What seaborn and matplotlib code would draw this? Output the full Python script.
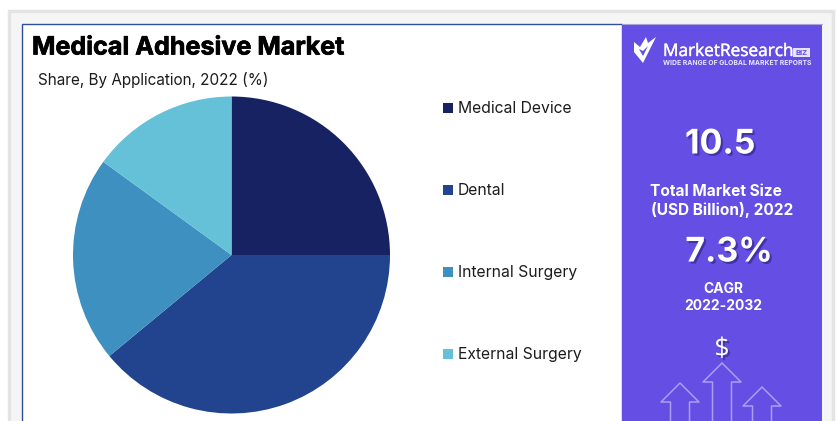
import matplotlib
matplotlib.use("Agg")
import matplotlib.pyplot as plt
import matplotlib.patheffects as pe
from matplotlib.patches import Rectangle, Polygon
import seaborn as sns

# Application shares, 2022 (%)
categories = ["Medical Device", "Dental", "Internal Surgery", "External Surgery"]
shares = [25, 39, 21, 15]
slice_colors = ["#162262", "#22448f", "#3e90c1", "#65c1d8"]

title = "Medical Adhesive Market"
subtitle = "Share, By Application, 2022 (%)"
market_size = "10.5"
market_label = ["Total Market Size", "(USD Billion), 2022"]
cagr = "7.3%"
cagr_label = ["CAGR", "2022-2032"]

W, H = 836, 421
sns.set_theme(style="white")
plt.rcParams["font.family"] = ["Inter", "DejaVu Sans"]

fig = plt.figure(figsize=(W / 100, H / 100), dpi=100, facecolor="white")

# Canvas addressed in pixels from the top-left corner
bg = fig.add_axes([0, 0, 1, 1])
bg.set_xlim(0, W)
bg.set_ylim(H, 0)
bg.axis("off")

PURPLE = "#644ee4"
bg.add_patch(Rectangle((8.5, 10.5), 824, 420, fc="#f5f5f5", ec="#e4e4e4", lw=2.5))
bg.add_patch(Rectangle((22, 24), 599.5, 420, fc="white", ec="#2f4f9c", lw=1))
bg.add_patch(Rectangle((622, 24), 200, 420, fc=PURPLE, ec="none"))
bg.plot([621.5, 822], [24, 24], color="#a9a3d8", lw=0.8)

# Headings, thickened slightly with a stroke
bg.text(32, 48, title, fontsize=18.1, fontweight="bold", color="black", va="center", ha="left",
        path_effects=[pe.withStroke(linewidth=0.5, foreground="black")])
bg.text(38, 80.5, subtitle, fontsize=11.0, color="#1c1c1c", va="center", ha="left")

# Pie chart
r = 158.5
cx, cy = 231.5, 255
pie_ax = fig.add_axes([(cx - r) / W, 1 - (cy + r) / H, 2 * r / W, 2 * r / H])
pie_ax.pie(shares, colors=slice_colors, startangle=90, counterclock=False, radius=1,
           wedgeprops={"linewidth": 0})
pie_ax.set_xlim(-1, 1)
pie_ax.set_ylim(-1, 1)

# Legend column
legend_y = [108, 190, 272, 354]
for name, color, y in zip(categories, slice_colors, legend_y):
    bg.add_patch(Rectangle((442.5, y - 5.5), 10.5, 10.5, fc=color, ec="none"))
    bg.text(458, y + 0.3, name, fontsize=11.3, color="#1c1c1c", va="center", ha="left")

# Logo mark and wordmark
logo = [(634, 42), (640, 47), (646, 37), (648, 43), (656, 37), (643, 63), (634, 52)]
bg.add_patch(Polygon(logo, closed=True, fc="white", ec="none"))
bg.add_patch(Polygon([(639, 49), (643, 56), (648, 46), (643, 51)], closed=True, fc=PURPLE, ec="none"))
bg.text(663, 52, "MarketResearch", fontsize=12.4, color="white", va="center", ha="left",
        family=["Open Sans", "DejaVu Sans"],
        path_effects=[pe.withStroke(linewidth=0.3, foreground="white")])
bg.add_patch(Rectangle((793, 48), 17, 9, fc="white", ec="none", alpha=0.85))
bg.text(801.5, 52.7, "BIZ", fontsize=5.5, fontweight="bold", color=PURPLE, va="center", ha="center")
bg.text(663, 63, "WIDE RANGE OF GLOBAL MARKET REPORTS", fontsize=4.9, fontweight="bold",
        color="#e8e5fb", va="center", ha="left")

# Key figures with a soft drop shadow
shadow = [pe.withSimplePatchShadow(offset=(1.5, -1.5), shadow_rgbFace="#2c2080", alpha=0.6)]
bg.text(720, 144.5, market_size, fontsize=24.4, fontweight="bold", color="white", ha="center",
        va="center", path_effects=shadow)
bg.text(716, 191, market_label[0], fontsize=11.1, fontweight="bold", color="white", ha="center", va="center")
bg.text(722, 209.5, market_label[1], fontsize=11.1, fontweight="bold", color="white", ha="center", va="center")
bg.text(729, 252.5, cagr, fontsize=24.4, fontweight="bold", color="white", ha="center",
        va="center", path_effects=shadow)
bg.text(723, 289, cagr_label[0], fontsize=10, fontweight="bold", color="white", ha="center", va="center")
bg.text(723, 306, cagr_label[1], fontsize=10, fontweight="bold", color="white", ha="center", va="center")
bg.text(722, 350, "$", fontsize=19, color="white", ha="center", va="center", path_effects=shadow,
        family=["Open Sans", "DejaVu Sans"])


def outline_arrow(x, tip, shoulder, half_head=19, half_shaft=9.5):
    """Open arrow outline running off the bottom edge."""
    xs = [x - half_shaft, x - half_shaft, x - half_head, x, x + half_head, x + half_shaft, x + half_shaft]
    ys = [H + 2, shoulder, shoulder, tip, shoulder, shoulder, H + 2]
    bg.plot(xs, ys, color="#a99ff0", lw=1.1)


outline_arrow(680, 383, 402)
outline_arrow(722, 363, 382)
outline_arrow(762, 387, 406)

bg.set_xlim(0, W)
bg.set_ylim(H, 0)
fig.savefig("out.png", dpi=100, facecolor="white")
